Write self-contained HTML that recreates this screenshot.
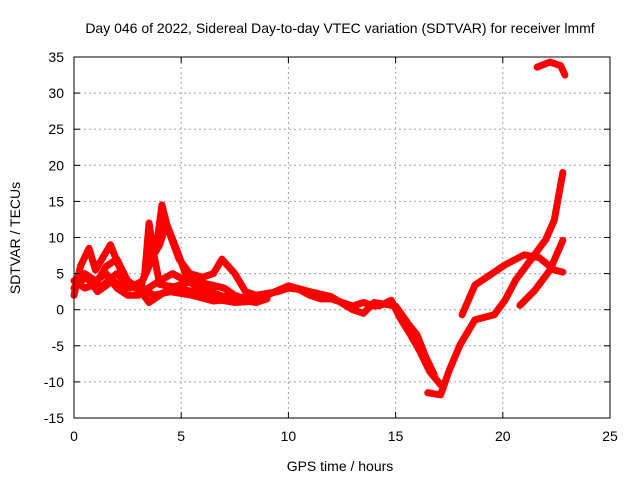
<!DOCTYPE html>
<html><head><meta charset="utf-8"><style>
html,body{margin:0;padding:0;background:#fff}
svg{display:block;font-family:"Liberation Sans",sans-serif}
</style></head><body>
<svg id="chart" width="640" height="480">
<rect width="640" height="480" fill="#fff"/>
<text x="340" y="33" font-size="14" text-anchor="middle">Day 046 of 2022, Sidereal Day-to-day VTEC variation (SDTVAR) for receiver lmmf</text>
<text x="340" y="471" font-size="14" text-anchor="middle">GPS time / hours</text>
<text transform="translate(20,238) rotate(-90)" font-size="14" text-anchor="middle">SDTVAR / TECUs</text>
<g id="grid"></g><g id="series"></g><g id="axes"></g>
</svg>
<script>
const xTicks=[0,5,10,15,20,25];
const yTicks=[-15,-10,-5,0,5,10,15,20,25,30,35];
const trackA=[[0,2],[0.3,6],[0.7,8.5],[1.0,5.5],[1.3,7],[1.7,9],[2.1,6],[2.6,3],[3.2,4],[3.5,6],[3.9,10],[4.1,14.5],[4.4,11],[4.9,7],[5.4,5],[6.0,4.5],[6.5,5],[6.9,7],[7.5,5],[8.0,2.5],[8.5,2]];
const trackB=[[0,3],[0.5,5],[1,4],[1.5,5],[2,3],[2.5,2],[3,2],[3.3,5],[3.5,12],[3.7,8],[4.0,3.5],[5,3],[6,2],[7,1.5],[8,1.2],[9,1.5]];
const trackC=[[0,4],[0.5,3],[1.0,3.5],[1.5,6],[2.0,7],[2.5,4],[3,3],[3.5,1],[4,2],[4.5,3],[5.5,4],[6.3,3.5],[7,3],[7.5,2],[8.5,1],[9,1.5]];
const trackD=[[0.3,5],[1.2,3],[2,5],[2.5,3.5],[3.2,2.5],[4,4],[4.6,5],[5.2,4],[6,3],[6.8,2],[7.5,1.5],[8.5,2]];
const trackE=[[3.6,7],[4.0,9],[4.3,12],[4.7,9],[5.2,5],[5.8,2.5],[6.5,1.5],[7.5,1],[8.5,1.2]];
const trackL=[[0.1,3.5],[0.6,4.5],[1.1,2.5],[1.8,4],[2.4,3],[3.0,3.5],[3.7,2],[4.5,2.5],[5.5,2],[6.5,1.2],[7.5,1.5],[8.5,1]];
const trackI=[[8.5,2],[9.5,2.5],[10,3],[10.5,2.8],[11,2],[11.5,1.5],[12,1.5],[12.5,1],[13,0.5],[13.5,1],[14,0.5],[14.3,0.6],[14.8,1.3],[15.2,-1.1],[15.7,-3.5],[16.1,-5.6],[16.6,-8.6],[17.1,-10.4]];
const trackJ=[[9,2],[10,3.3],[11,2.5],[12,1.8],[13,0],[13.5,-0.5],[14,1],[15,0.5],[15.6,-2],[16.0,-3.5],[16.4,-6.5],[16.8,-9]];
const trackF=[[16.5,-11.5],[17.1,-11.8],[17.5,-8.4],[18,-4.9],[18.7,-1.4],[19.6,-0.7],[20.1,1.3],[20.6,4.1],[21.3,6.9],[22,9.7],[22.4,12.4],[22.8,19]];
const trackG=[[18.1,-0.7],[18.7,3.4],[19.4,4.8],[20.1,6.2],[21,7.6],[21.7,7.2],[22.4,5.5],[22.8,5.2]];
const trackH=[[20.8,0.6],[21.5,2.7],[22.2,5.5],[22.8,9.6]];
const trackK=[[21.6,33.6],[22.2,34.3],[22.7,33.8],[22.9,32.5]];
const tracks=[trackA,trackB,trackC,trackD,trackE,trackL,trackI,trackJ,trackF,trackG,trackH,trackK];
const X0=74,X1=610,Y0=418,Y1=57;
const sx=h=>X0+(h-0)/(25-0)*(X1-X0);
const sy=v=>Y0-(v+15)/(35+15)*(Y0-Y1);
const NS="http://www.w3.org/2000/svg";
const grid=document.getElementById('grid'),axes=document.getElementById('axes'),ser=document.getElementById('series');
function mk(tag,attrs,parent){const e=document.createElementNS(NS,tag);for(const k in attrs)e.setAttribute(k,attrs[k]);parent.appendChild(e);return e;}
xTicks.forEach(t=>{
  const x=sx(t);
  if(t>0&&t<25){const g=mk('line',{x1:x,x2:x,y1:Y1,y2:Y0,stroke:'#a0a0a0','stroke-dasharray':'2,3'},grid);
  
  }
  mk('line',{x1:x,x2:x,y1:Y0,y2:Y0-6,stroke:'#000'},axes);
  mk('line',{x1:x,x2:x,y1:Y1,y2:Y1+6,stroke:'#000'},axes);
  const l=mk('text',{x:x,y:Y0+23,'font-size':14,'text-anchor':'middle'},axes);l.textContent=t;
  
  
});
yTicks.forEach(t=>{
  const y=sy(t);
  if(t>-15&&t<35){const g=mk('line',{x1:X0,x2:X1,y1:y,y2:y,stroke:'#a0a0a0','stroke-dasharray':'2,3'},grid);
  
  }
  mk('line',{x1:X0,x2:X0+6,y1:y,y2:y,stroke:'#000'},axes);
  mk('line',{x1:X1,x2:X1-6,y1:y,y2:y,stroke:'#000'},axes);
  const l=mk('text',{x:X0-10,y:y+5,'font-size':14,'text-anchor':'end'},axes);l.textContent=t;
  
  
});
const b=mk('rect',{x:X0,y:Y1,width:X1-X0,height:Y0-Y1,fill:'none',stroke:'#000'},axes);


tracks.forEach(tr=>{
  const p=mk('polyline',{points:tr.map(d=>sx(d[0])+','+sy(d[1])).join(' '),fill:'none',stroke:'#ff0000','stroke-width':7,'stroke-linejoin':'round','stroke-linecap':'round'},ser);
  
  
});
</script>
</body></html>
